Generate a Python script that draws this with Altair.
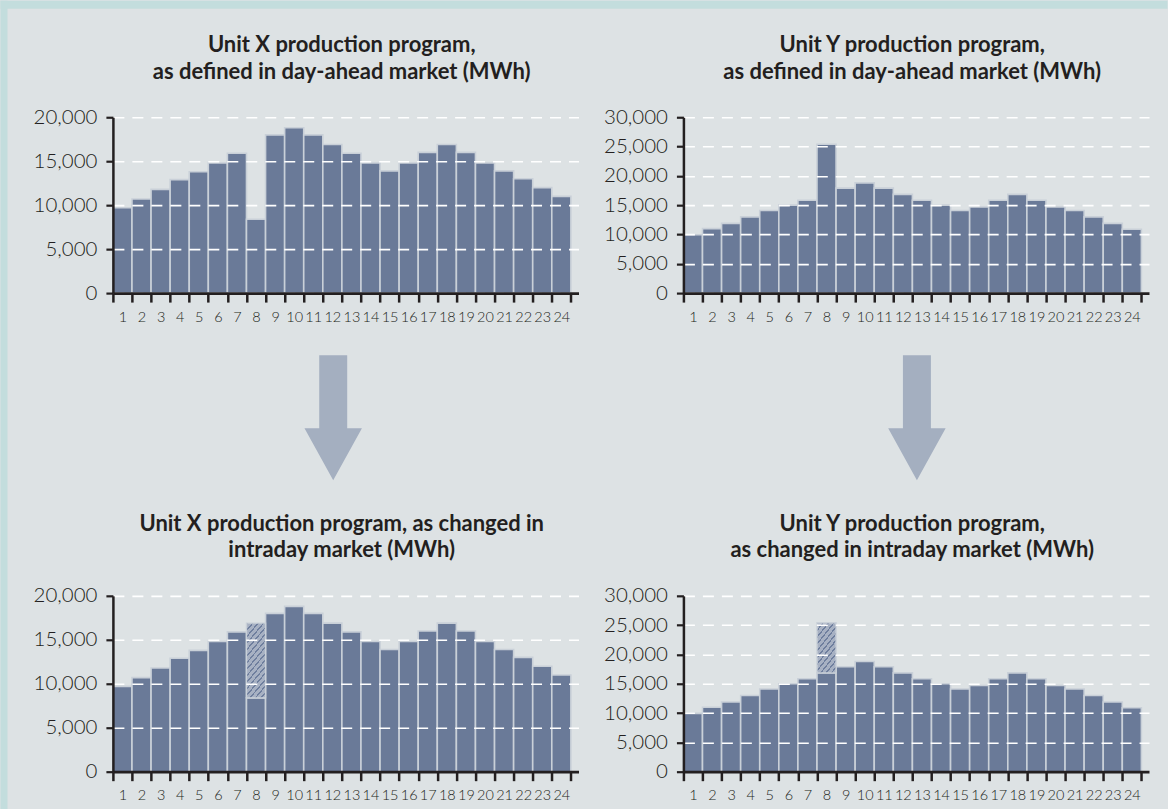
import altair as alt
import pandas as pd

# ---------------- data ----------------
HOURS = list(range(1, 25))

X_DAY_AHEAD = [9700, 10700, 11800, 12900, 13800, 14800, 15900, 8400, 18000, 18800, 18000, 16900,
               15900, 14800, 13900, 14800, 16000, 16900, 16000, 14800, 13900, 13000, 12000, 11000]
X_INTRADAY = [9700, 10700, 11800, 12900, 13800, 14800, 15900, 16900, 18000, 18800, 18000, 16900,
              15900, 14800, 13900, 14800, 16000, 16900, 16000, 14800, 13900, 13000, 12000, 11000]

Y_DAY_AHEAD = [9950, 11000, 11900, 13000, 14100, 15000, 15850, 25400, 17900, 18800, 17900, 16850,
               15850, 15000, 14100, 14700, 15850, 16850, 15850, 14700, 14100, 13000, 11900, 10900]
Y_INTRADAY = [9950, 11000, 11900, 13000, 14100, 15000, 15850, 16850, 17900, 18800, 17900, 16850,
              15850, 15000, 14100, 14700, 15850, 16850, 15850, 14700, 14100, 13000, 11900, 10900]

X_TICKS = [0, 5000, 10000, 15000, 20000]
Y_TICKS = [0, 5000, 10000, 15000, 20000, 25000, 30000]
X_MAX = 20000
Y_MAX = 30000

TITLE_TL = ["Unit X production program,", "as defined in day-ahead market (MWh)"]
TITLE_TR = ["Unit Y production program,", "as defined in day-ahead market (MWh)"]
TITLE_BL = ["Unit X production program, as changed in", "intraday market (MWh)"]
TITLE_BR = ["Unit Y production program,", "as changed in intraday market (MWh)"]

# ---------------- style ----------------
TEAL = "#c3dddd"
GRAY = "#dde2e4"
BAR = "#6a7a98"
BAR_EDGE = "#c9d0d8"
HATCH_BG = "#a7b1c3"
HATCH_LINE = "#6f7f9e"
ARROW = "#a4afc0"
INK = "#231f20"
FONT = "Lato"

W, H = 466, 176
STEP = W / 24.4

ARROW_PATH = ("M-0.224,-1 L0.224,-1 L0.224,0.168 L0.46,0.168 L0,1 "
              "L-0.46,0.168 L-0.224,0.168 Z")

one = pd.DataFrame({"k": [0]})


def stripes(n, a, b, d=0.3):
    stops = []
    for i in range(n):
        s = i / n
        m = s + d / n
        e = (i + 1) / n
        stops += [alt.GradientStop(color=HATCH_LINE, offset=s),
                  alt.GradientStop(color=HATCH_LINE, offset=m),
                  alt.GradientStop(color=HATCH_BG, offset=m),
                  alt.GradientStop(color=HATCH_BG, offset=e)]
    return alt.LinearGradient(gradient="linear", stops=stops, x1=0, y1=0, x2=a, y2=b)


def panel(values, base, ymax, yticks, title, hatch=None, arrow_x=None, frame=False):
    df = pd.DataFrame({"hour": HOURS, "value": values, "base": base})
    xenc = alt.X(
        "lo:Q",
        scale=alt.Scale(domain=[0.5, 24.9], nice=False, zero=False),
        axis=alt.Axis(
            values=[h - 0.5 for h in range(1, 26)],
            labelExpr="datum.value < 24 ? format(datum.value + 0.5, 'd') : ''",
            labelOffset=STEP / 2, labelOverlap=False, labelFlush=False,
            grid=False, tickSize=9, tickWidth=2.5, tickColor=INK,
            domainColor=INK, domainWidth=2.8,
            labelFont=FONT, labelFontSize=14.5, labelFontWeight=300, labelColor=INK,
            labelPadding=8, title=None, zindex=1),
    )
    yenc = alt.Y(
        "solid:Q",
        scale=alt.Scale(domain=[0, ymax], nice=False),
        axis=alt.Axis(
            values=yticks, format=",d", grid=True, gridDash=[11, 8], gridColor="#ffffff",
            gridWidth=1.6, domainColor=INK, domainWidth=2.5, tickColor=INK, tickSize=7,
            tickWidth=2.2, labelFont=FONT, labelFontSize=20.5, labelFontWeight=300,
            labelColor=INK, labelPadding=9, labelOverlap=False, title=None, zindex=1),
    )
    base_chart = alt.Chart(df).transform_calculate(
        lo="datum.hour - 0.5", hi="datum.hour + 0.5",
        solid="min(datum.value, datum.base)", top="max(datum.value, datum.base)", zero="0",
    )
    bars = base_chart.mark_rect(color=BAR, stroke=BAR_EDGE, strokeWidth=1.6).encode(
        x=xenc, x2="hi:Q", y=yenc, y2="zero:Q")
    layers = []
    if frame:
        layers.append(alt.Chart(one).mark_rect(color=TEAL).encode(
            x=alt.value(-112.5), x2=alt.value(-105.5), y=alt.value(-116.7), y2=alt.value(692.3)))
        layers.append(alt.Chart(one).mark_rect(color=TEAL).encode(
            x=alt.value(-112.5), x2=alt.value(1055.5), y=alt.value(-116.7), y2=alt.value(-108.7)))
    layers.append(bars)
    if hatch is not None:
        n, a, b = hatch
        layers.append(base_chart.transform_filter("datum.value != datum.base").mark_rect(
            fill=stripes(n, a, b), stroke=BAR_EDGE, strokeWidth=1.4).encode(
            x=xenc, x2="hi:Q", y=yenc, y2="top:Q"))
    for line, ypos in zip(title, [-65, -38.4]):
        layers.append(alt.Chart(one).mark_text(
            text=line, font=FONT, fontSize=22, fontWeight="bold", color=INK,
            align="center", baseline="alphabetic").encode(
            x=alt.value(229), y=alt.value(ypos)))
    if arrow_x is not None:
        layers.append(alt.Chart(one).mark_point(
            shape=ARROW_PATH, size=15625, filled=True, fill=ARROW, opacity=1,
            strokeWidth=0).encode(x=alt.value(arrow_x), y=alt.value(300.8)))
    return alt.layer(*layers).properties(width=W, height=H)


tl = panel(X_DAY_AHEAD, X_DAY_AHEAD, X_MAX, X_TICKS, TITLE_TL, arrow_x=220.5, frame=True)
tr = panel(Y_DAY_AHEAD, Y_DAY_AHEAD, Y_MAX, Y_TICKS, TITLE_TR, arrow_x=233.7)
bl = panel(X_INTRADAY, X_DAY_AHEAD, X_MAX, X_TICKS, TITLE_BL, hatch=(15, 0.365, 1.194))
br = panel(Y_INTRADAY, Y_DAY_AHEAD, Y_MAX, Y_TICKS, TITLE_BR, hatch=(11, 0.573, 1.203))

top_row = alt.hconcat(tl, tr, spacing=105, bounds="flush")
bottom_row = alt.hconcat(bl, br, spacing=105, bounds="flush")

# nested rows report zero height under flush bounds, so spacing = row offset
chart = alt.vconcat(top_row, bottom_row, spacing=479, bounds="flush").properties(
    background=GRAY, padding=0,
).configure_view(strokeWidth=0, stroke=None)

chart.save("out.html", embed_options={"renderer": "svg", "actions": False})
